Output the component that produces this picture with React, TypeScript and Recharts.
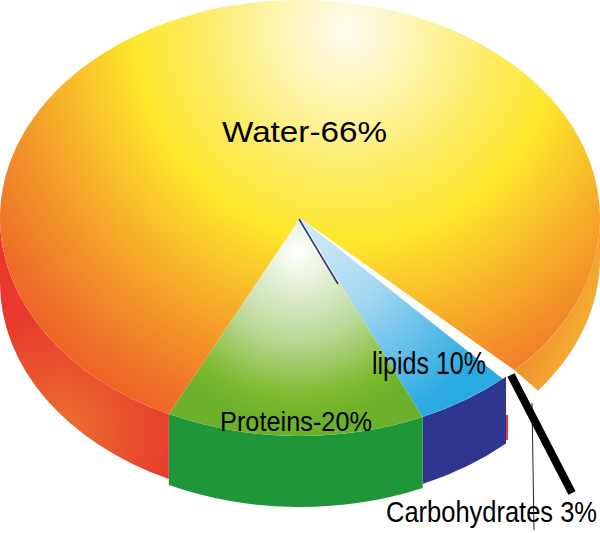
import { Pie, PieChart } from "recharts";

// shares of the circle as drawn, the printed labels don't match the drawing
const sliceNames = ["Carbohydrates", "Lipids", "Proteins", "Water"];
const sliceShares = [0.9, 5.1, 13.9, 80.1];
const sliceFills = ["#ffffff", "url(#lipidsTop)", "url(#proteinsTop)", "url(#waterTop)"];

const wallNames = ["Water right", "Carbohydrates", "Lipids", "Proteins", "Water left", "Back"];
const wallShares = [12.3, 0.65, 5.35, 13.9, 17.8, 50];
const wallFills = ["url(#waterRight)", "none", "#2e3690", "#1e9639", "url(#waterLeft)", "none"];
const wallDrops = [40, 0, 67, 71, 65, 0];

const waterLabel = "Water-66%";
const proteinsLabel = "Proteins-20%";
const lipidsLabel = "lipids 10%";
const carbsLabel = "Carbohydrates 3%";

const topData = sliceNames.map((name, i) => ({ name, value: sliceShares[i], fill: sliceFills[i] }));
const wallData = wallNames.map((name, i) => ({
  name,
  value: wallShares[i],
  fill: wallFills[i],
  drop: wallDrops[i],
}));

const SQUASH = 218 / 300;
const RAD = Math.PI / 180;

const pt = (cx: number, cy: number, r: number, angle: number) => ({
  x: cx + r * Math.cos(angle * RAD),
  y: cy - r * SQUASH * Math.sin(angle * RAD),
});

function TopSlice(props: any) {
  const { cx, cy, outerRadius: r, startAngle, endAngle, fill } = props;
  const a = pt(cx, cy, r, startAngle);
  const b = pt(cx, cy, r, endAngle);
  const large = Math.abs(endAngle - startAngle) > 180 ? 1 : 0;
  const d = `M${cx} ${cy}L${a.x} ${a.y}A${r} ${r * SQUASH} 0 ${large} 1 ${b.x} ${b.y}Z`;
  return <path d={d} fill={fill} />;
}

function WallSlice(props: any) {
  const { cx, cy, outerRadius: r, startAngle, endAngle, fill, payload } = props;
  const drop = payload.drop;
  if (!drop) return null;
  const rightWall = payload.name === "Water right";
  const a = pt(cx, cy, r, startAngle);
  const b = pt(cx, cy, r, endAngle);
  // the right wall is shallower and its tip sits further round
  const c = pt(cx, cy + drop, r, rightWall ? endAngle + 6.8 : endAngle);
  const e = pt(cx, cy + drop, r, startAngle);
  const ry = r * SQUASH;
  const d = `M${a.x} ${a.y}A${r} ${ry} 0 0 1 ${b.x} ${b.y}L${c.x} ${c.y}A${r} ${ry} 0 0 0 ${e.x} ${e.y}Z`;
  return <path d={d} fill={fill} />;
}

export default function App() {
  return (
    <div style={{ position: "absolute", left: 0, top: 0, width: 600, height: 533, background: "#fff" }}>
      <PieChart width={600} height={533} margin={{ top: 0, right: 0, bottom: 0, left: 0 }}>
        <defs>
          <radialGradient id="waterTop" gradientUnits="userSpaceOnUse" cx={347} cy={30} r={425}>
            <stop offset="0" stopColor="#fffdf0" />
            <stop offset="0.08" stopColor="#fef8d2" />
            <stop offset="0.2" stopColor="#fdf3a0" />
            <stop offset="0.36" stopColor="#fdeb5c" />
            <stop offset="0.5" stopColor="#fde72c" />
            <stop offset="0.64" stopColor="#f9c02a" />
            <stop offset="0.78" stopColor="#f49a29" />
            <stop offset="0.9" stopColor="#f07c28" />
            <stop offset="1" stopColor="#ee6427" />
          </radialGradient>
          <radialGradient id="proteinsTop" gradientUnits="userSpaceOnUse" cx={298} cy={252} r={172}>
            <stop offset="0" stopColor="#ffffff" />
            <stop offset="0.5" stopColor="#bcd99a" />
            <stop offset="0.85" stopColor="#7cba2c" />
            <stop offset="1" stopColor="#6cb02c" />
          </radialGradient>
          <radialGradient id="lipidsTop" gradientUnits="userSpaceOnUse" cx={300} cy={218} r={225}>
            <stop offset="0" stopColor="#d6ebf7" />
            <stop offset="0.45" stopColor="#a6d8f1" />
            <stop offset="1" stopColor="#29aae2" />
          </radialGradient>
          <radialGradient id="waterLeft" gradientUnits="userSpaceOnUse" cx={62} cy={430} r={120}>
            <stop offset="0" stopColor="#ea7030" />
            <stop offset="1" stopColor="#e8392c" />
          </radialGradient>
          <linearGradient id="waterRight" gradientUnits="userSpaceOnUse" x1={520} y1={340} x2={590} y2={370}>
            <stop offset="0" stopColor="#ee8a2e" />
            <stop offset="1" stopColor="#f7bb33" />
          </linearGradient>
        </defs>

        <Pie
          data={wallData}
          dataKey="value"
          nameKey="name"
          cx={300}
          cy={218}
          outerRadius={300}
          startAngle={0}
          endAngle={-360}
          stroke="none"
          shape={WallSlice}
          isAnimationActive={false}
        />
        <Pie
          data={topData}
          dataKey="value"
          nameKey="name"
          cx={300}
          cy={218}
          outerRadius={300}
          startAngle={-44.3}
          endAngle={-404.3}
          stroke="none"
          shape={TopSlice}
          isAnimationActive={false}
        />
      </PieChart>

      {/* labels and leader lines go over the pie, the chart layers its sectors above its own children */}
      <svg width={600} height={533} style={{ position: "absolute", left: 0, top: 0 }}>
        <line x1={299} y1={219} x2={338} y2={284} stroke="#2e3690" strokeWidth={1.6} />
        <rect x={506} y={415} width={2} height={25} fill="#e8392c" />
        <line x1={532} y1={403} x2={534} y2={530} stroke="#222" strokeWidth={1} />
        <line x1={511} y1={375} x2={572} y2={493} stroke="#000" strokeWidth={8} />
        <g fontFamily="Liberation Sans" fill="#000">
          <text x={222} y={142} fontSize={30} textLength={165} lengthAdjust="spacingAndGlyphs">
            {waterLabel}
          </text>
          <text x={220} y={431} fontSize={28} textLength={152} lengthAdjust="spacingAndGlyphs">
            {proteinsLabel}
          </text>
          <text x={372} y={374} fontSize={31} textLength={114} lengthAdjust="spacingAndGlyphs">
            {lipidsLabel}
          </text>
          <text x={386} y={522} fontSize={30} textLength={211} lengthAdjust="spacingAndGlyphs">
            {carbsLabel}
          </text>
        </g>
      </svg>
    </div>
  );
}
